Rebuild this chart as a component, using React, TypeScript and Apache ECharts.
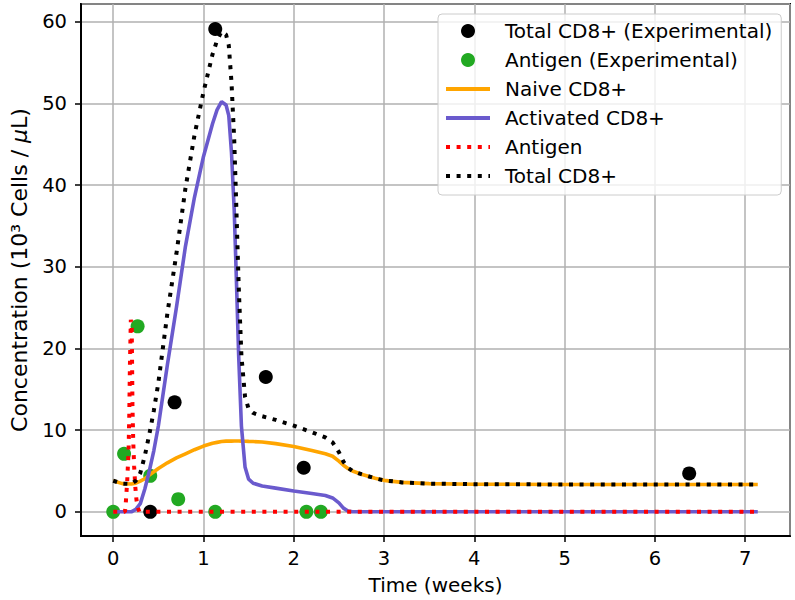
import { useEffect, useRef } from "react";
import * as echarts from "echarts";

// Experimental data
const totalExpTime = [0.41, 0.68, 1.13, 1.69, 2.11, 6.38];
const totalExpValue = [0, 13.4, 59.1, 16.5, 5.4, 4.7];
const antigenExpTime = [0, 0.12, 0.27, 0.41, 0.72, 1.13, 2.14, 2.3];
const antigenExpValue = [0, 7.1, 22.7, 4.4, 1.55, 0, 0, 0];

// Model curves (weeks)
const modelTime = [
  0, 0.1, 0.2, 0.25, 0.3, 0.35, 0.4, 0.45, 0.5, 0.6, 0.7, 0.8, 0.9, 1.0, 1.1, 1.15, 1.2, 1.25,
  1.28, 1.31, 1.34, 1.36, 1.39, 1.42, 1.46, 1.5, 1.55, 1.65, 1.8, 2.0, 2.2, 2.35, 2.43, 2.5,
  2.55, 2.6, 2.65, 2.75, 2.9, 3.0, 3.2, 3.5, 4.0, 5.0, 6.0, 7.14,
];
const naiveValues = [
  3.8, 3.45, 3.4, 3.5, 3.75, 4.05, 4.5, 4.9, 5.3, 6.0, 6.6, 7.1, 7.6, 8.05, 8.4, 8.5, 8.6, 8.65,
  8.65, 8.65, 8.66, 8.66, 8.66, 8.65, 8.64, 8.62, 8.6, 8.55, 8.35, 8.0, 7.5, 7.1, 6.8, 6.2,
  5.7, 5.3, 5.0, 4.6, 4.1, 3.85, 3.6, 3.45, 3.38, 3.35, 3.35, 3.35,
];
const activatedValues = [
  0, 0, 0, 0.3, 1.0, 2.8, 5.0, 7.5, 10.5, 18.0, 25.0, 32.5, 38.5, 43.5, 47.5, 49.2, 50.2, 49.8,
  48.5, 44.0, 37.0, 30.0, 19.0, 10.5, 5.5, 4.0, 3.5, 3.15, 2.9, 2.55, 2.25, 2.0, 1.7, 1.1,
  0.45, 0.1, 0, 0, 0, 0, 0, 0, 0, 0, 0, 0,
];
const totalValues = [
  3.8, 3.45, 3.4, 3.8, 4.75, 6.85, 9.5, 12.4, 15.8, 24.3, 31.6, 39.6, 46.1, 51.4, 56.0, 57.7, 58.8, 58.4,
  57.1, 52.6, 45.6, 38.6, 27.6, 19.1, 14.1, 12.6, 12.1, 11.7, 11.25, 10.55, 9.75, 9.1, 8.5, 7.3,
  6.15, 5.4, 5.0, 4.6, 4.1, 3.85, 3.6, 3.45, 3.38, 3.35, 3.35, 3.35,
];
const antigenTime = [
  0, 0.13, 0.14, 0.155, 0.17, 0.178, 0.185, 0.195, 0.205, 0.21, 0.213, 0.222, 0.232, 0.245,
  0.257, 0.27, 0.29, 7.14,
];
const antigenValues = [
  0, 0, 1.2, 3.8, 7.5, 12, 18, 23.5, 22.5, 17, 13, 8.5, 5.5, 3, 1.5, 0.6, 0, 0,
];

const seriesNames = [
  "Total CD8+ (Experimental)",
  "Antigen (Experimental)",
  "Naive CD8+",
  "Activated CD8+",
  "Antigen",
  "Total CD8+",
];

const FONT = "DejaVu Sans";

const zip = (xs: number[], ys: number[]) => xs.map((x, i) => [x, ys[i]]);

export default function App() {
  const ref = useRef<HTMLDivElement>(null);
  useEffect(() => {
    if (!ref.current) return;
    const chart = echarts.init(ref.current, null, { renderer: "svg" });
    const dotted = [4, 6.6];
    const hiddenSymbol = { color: "rgba(0,0,0,0)", borderWidth: 0, opacity: 0 };
    chart.setOption({
      animation: false,
      backgroundColor: "#fff",
      textStyle: { fontFamily: FONT },
      grid: {
        left: 77,
        right: 5,
        top: 4,
        bottom: 63,
        show: true,
        borderColor: "#000",
        borderWidth: 2,
        backgroundColor: "transparent",
      },
      xAxis: {
        type: "value",
        min: -0.357,
        max: 7.497,
        splitNumber: 8,
        name: "Time (weeks)",
        nameLocation: "middle",
        nameGap: 39,
        nameTextStyle: { fontSize: 20, fontFamily: FONT, color: "#000" },
        axisLine: { show: true, onZero: false, lineStyle: { color: "#000", width: 2 } },
        axisTick: { show: true, length: 6, lineStyle: { color: "#000", width: 1.5 } },
        axisLabel: {
          showMinLabel: false,
          showMaxLabel: false,
          fontSize: 19.5,
          fontFamily: FONT,
          color: "#000",
          margin: 12,
        },
        splitLine: { show: true, lineStyle: { color: "#b0b0b0", width: 1.5 } },
      },
      yAxis: {
        type: "value",
        min: -2.96,
        max: 62.16,
        splitNumber: 6,
        name: "Concentration (10³ Cells / {mu|μ}L)",
        nameLocation: "middle",
        nameRotate: 90,
        nameGap: 51,
        nameTextStyle: {
          fontSize: 22,
          fontFamily: FONT,
          color: "#000",
          rich: { mu: { fontSize: 22, fontFamily: FONT, fontStyle: "italic", color: "#000" } },
        },
        axisLine: { show: true, onZero: false, lineStyle: { color: "#000", width: 2 } },
        axisTick: { show: true, length: 6, lineStyle: { color: "#000", width: 1.5 } },
        axisLabel: {
          showMinLabel: false,
          showMaxLabel: false,
          fontSize: 19.5,
          fontFamily: FONT,
          color: "#000",
          margin: 14,
        },
        splitLine: { show: true, lineStyle: { color: "#b0b0b0", width: 1.5 } },
      },
      legend: {
        orient: "vertical",
        left: 438,
        top: 14,
        itemWidth: 44,
        itemHeight: 14,
        itemGap: 9,
        padding: [7, 9, 9, 6],
        backgroundColor: "rgba(255,255,255,0.8)",
        borderColor: "#cccccc",
        borderWidth: 1,
        borderRadius: 4,
        selectedMode: false,
        lineStyle: { width: 4 },
        textStyle: { fontSize: 20, fontFamily: FONT, color: "#000", padding: [0, 0, 0, 10] },
        data: [
          { name: seriesNames[0] },
          { name: seriesNames[1] },
          { name: seriesNames[2], itemStyle: hiddenSymbol },
          { name: seriesNames[3], itemStyle: hiddenSymbol },
          { name: seriesNames[4], itemStyle: hiddenSymbol },
          { name: seriesNames[5], itemStyle: hiddenSymbol },
        ],
      },
      series: [
        {
          name: seriesNames[0],
          type: "scatter",
          data: zip(totalExpTime, totalExpValue),
          symbolSize: 14,
          itemStyle: { color: "#000", opacity: 1 },
          emphasis: { disabled: true },
        },
        {
          name: seriesNames[1],
          type: "scatter",
          data: zip(antigenExpTime, antigenExpValue),
          symbolSize: 14,
          itemStyle: { color: "#22a922", opacity: 1 },
          emphasis: { disabled: true },
        },
        {
          name: seriesNames[2],
          type: "line",
          data: zip(modelTime, naiveValues),
          symbol: "none",
          showSymbol: false,
          itemStyle: { color: "#ffa500" },
          lineStyle: { color: "#ffa500", width: 3.6 },
          emphasis: { disabled: true },
        },
        {
          name: seriesNames[3],
          type: "line",
          data: zip(modelTime, activatedValues),
          symbol: "none",
          showSymbol: false,
          itemStyle: { color: "#6a5acd" },
          lineStyle: { color: "#6a5acd", width: 3.6 },
          emphasis: { disabled: true },
        },
        {
          name: seriesNames[4],
          type: "line",
          data: zip(antigenTime, antigenValues),
          symbol: "none",
          showSymbol: false,
          itemStyle: { color: "#ff0000" },
          lineStyle: { color: "#ff0000", width: 4, type: dotted, cap: "butt" },
          emphasis: { disabled: true },
        },
        {
          name: seriesNames[5],
          type: "line",
          data: zip(modelTime, totalValues),
          symbol: "none",
          showSymbol: false,
          itemStyle: { color: "#000" },
          lineStyle: { color: "#000", width: 4, type: dotted, cap: "butt" },
          emphasis: { disabled: true },
        },
      ],
    });
    return () => chart.dispose();
  }, []);
  return <div ref={ref} style={{ width: 795, height: 600, position: "absolute", left: 0, top: 0 }} />;
}
